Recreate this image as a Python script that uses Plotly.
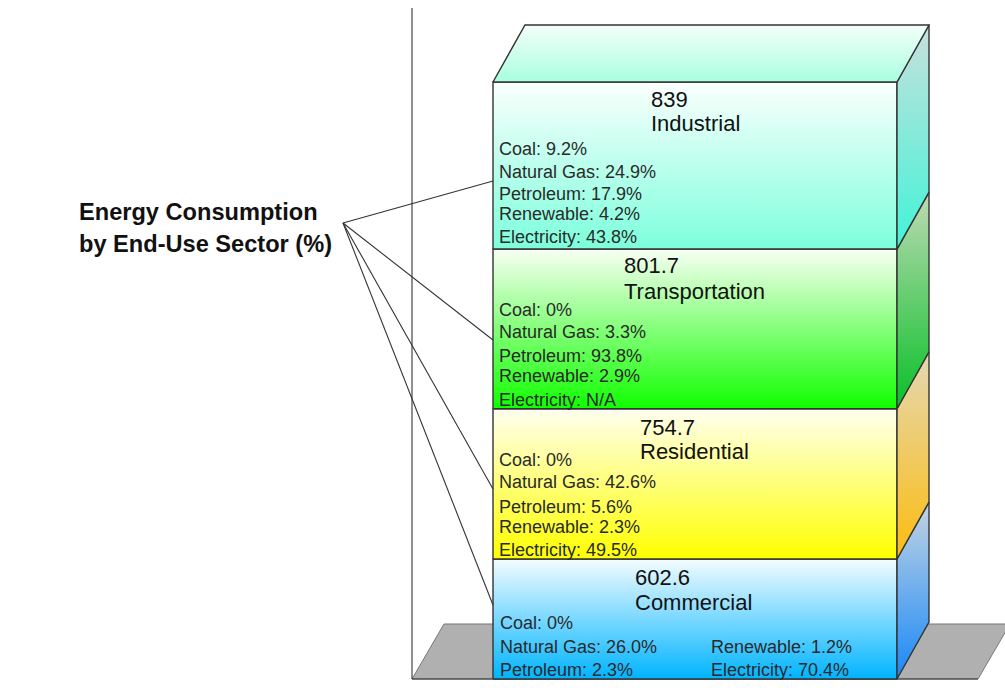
import plotly.graph_objects as go

# ---- data ----
sectors = ["Commercial", "Residential", "Transportation", "Industrial"]
totals = [602.6, 754.7, 801.7, 839]
total_labels = ["602.6", "754.7", "801.7", "839"]
coal = ["0%", "0%", "0%", "9.2%"]
natural_gas = ["26.0%", "42.6%", "3.3%", "24.9%"]
petroleum = ["2.3%", "5.6%", "93.8%", "17.9%"]
renewable = ["1.2%", "2.3%", "2.9%", "4.2%"]
electricity = ["70.4%", "49.5%", "N/A", "43.8%"]
title_lines = ["Energy Consumption", "by End-Use Sector (%)"]

# ---- styling ----
W, H = 1005, 688
BASE_PX, TOP_PX = 679, 82
BAR_L, BAR_R = 493, 897
UNITS_PER_PX = sum(totals) / (BASE_PX - TOP_PX)
DX = 32 / (BAR_R - BAR_L)
DY = 57 * UNITS_PER_PX
LINE = "#333333"
front_cols = [("#f4fcff", "#00b4ff"), ("#fffff0", "#ffff00"), ("#f8fff4", "#10ff00"), ("#fbfffd", "#7cffdc")]
side_cols = [("#c4d4e2", "#1888f8"), ("#e4d8b4", "#fcbc10"), ("#bedab4", "#08c028"), ("#c8e0dc", "#40f4d8")]
top_cols = ("#f4fffa", "#a8ffe0")

def fx(px):
    return (px - BAR_L) / (BAR_R - BAR_L)

def fy(py):
    return (BASE_PX - py) * UNITS_PER_PX

def poly(xs, ys, cols):
    return go.Scatter(
        x=xs + xs[:1], y=ys + ys[:1], mode="lines", fill="toself",
        line=dict(color=LINE, width=1.4), hoverinfo="skip", showlegend=False,
        fillgradient=dict(type="vertical", colorscale=[[0, cols[1]], [1, cols[0]]]),
    )

def seg(xs, ys, width=1.1):
    return go.Scatter(x=xs, y=ys, mode="lines", line=dict(color=LINE, width=width),
                      hoverinfo="skip", showlegend=False)

fig = go.Figure()

# floor
floor_x = [fx(412), fx(444), fx(1010), fx(978)]
floor_y = [0, DY * 55 / 57, DY * 55 / 57, 0]
fig.add_trace(go.Scatter(x=floor_x + floor_x[:1], y=floor_y + floor_y[:1], mode="lines", fill="toself",
                         fillcolor="#b0b0b0", line=dict(color="#777777", width=1),
                         hoverinfo="skip", showlegend=False))

# wall / baseline axis
fig.add_trace(seg([fx(412), fx(412)], [fy(8), 0]))
fig.add_trace(seg([fx(412), fx(978)], [0, 0]))

# stack
bottom = 0
for i, v in enumerate(totals):
    top = bottom + v
    fig.add_trace(poly([0, 1, 1, 0], [bottom, bottom, top, top], front_cols[i]))
    fig.add_trace(poly([1, 1 + DX, 1 + DX, 1], [bottom, bottom + DY, top + DY, top], side_cols[i]))
    bottom = top

# top face
fig.add_trace(poly([0, 1, 1 + DX, DX], [bottom, bottom, bottom + DY, bottom + DY], top_cols))

# leader lines
origin = (343, 223)
for end_y in (181, 340, 489, 605):
    fig.add_trace(seg([fx(origin[0]), 0], [fy(origin[1]), fy(end_y)]))

# ---- texts ----
annotations = []

def text(px, py, s, size, color="#1c1c1c", bold=False):
    annotations.append(dict(
        x=(px - 2) / W, y=1 - py / H, xref="paper", yref="paper", text=f"<b>{s}</b>" if bold else s,
        showarrow=False, xanchor="left", yanchor="middle", align="left",
        font=dict(family="Liberation Sans, Arial", size=size, color=color),
    ))

text(79, 212, title_lines[0], 23.6, "#111111", True)
text(79, 244, title_lines[1], 23.6, "#111111", True)

head_x = [635, 640, 624, 651]
head_y = [(577, 602), (427, 451), (265, 291), (99, 124)]
row_y = [(623, 647, 670, 647, 670), (460, 482, 507, 527, 550),
         (310, 332, 356, 376, 400), (149, 172, 194, 214, 237)]
row_x = [(500, 500, 500, 711, 711), (499,) * 5, (499,) * 5, (499,) * 5]

for i in range(len(sectors)):
    text(head_x[i], head_y[i][0], total_labels[i], 22, "#111111")
    text(head_x[i], head_y[i][1], sectors[i], 22, "#111111")
    rows = [f"Coal: {coal[i]}", f"Natural Gas: {natural_gas[i]}", f"Petroleum: {petroleum[i]}",
            f"Renewable: {renewable[i]}", f"Electricity: {electricity[i]}"]
    for s, px, py in zip(rows, row_x[i], row_y[i]):
        text(px, py, s, 18, "#2a2a2a")

fig.update_layout(
    width=W, height=H, margin=dict(l=0, r=0, t=0, b=0),
    paper_bgcolor="white", plot_bgcolor="white", showlegend=False,
    xaxis=dict(range=[fx(0), fx(W)], visible=False, fixedrange=True),
    yaxis=dict(range=[fy(H), fy(0)], visible=False, fixedrange=True),
    annotations=annotations,
)

fig.write_html("out.html", config={"displayModeBar": False},
               post_script="document.body.style.margin='0';document.body.style.overflow='hidden';")
